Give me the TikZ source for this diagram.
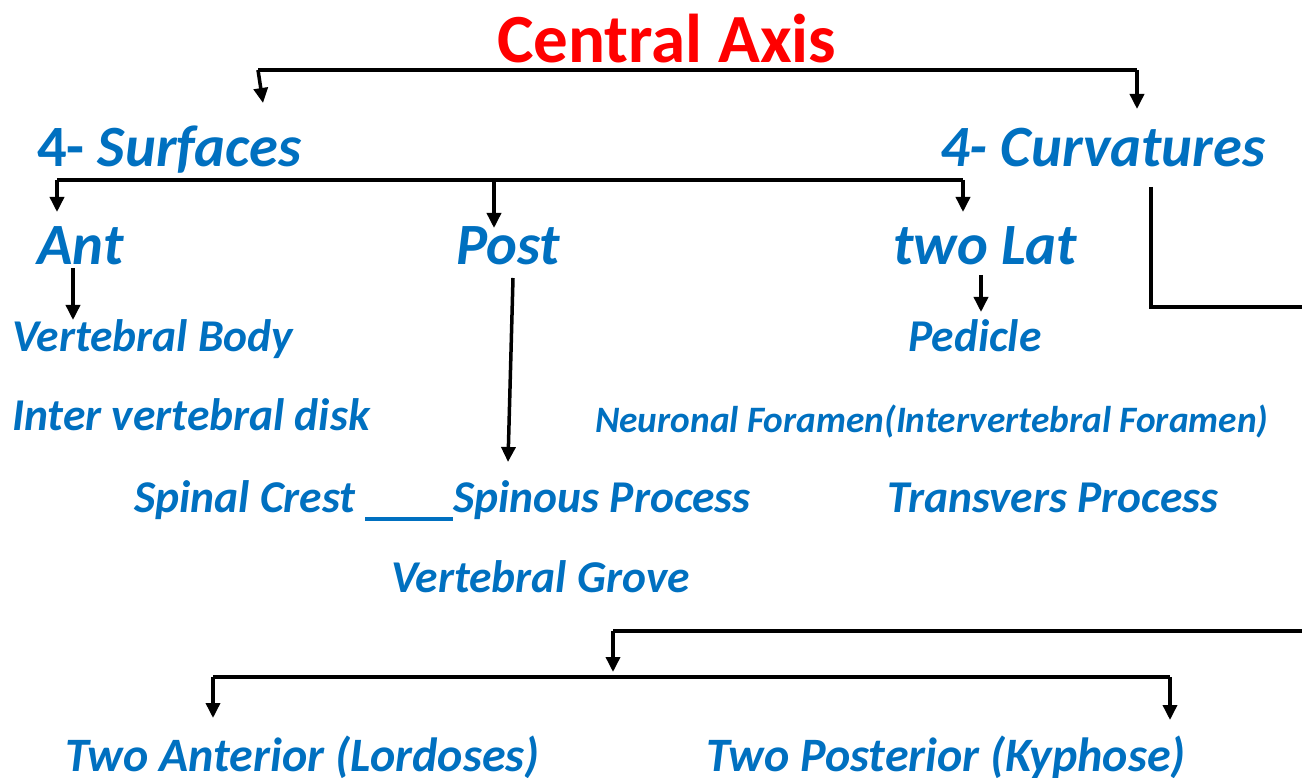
\documentclass[tikz,border=0pt]{standalone}
\usepackage{fontspec}
\setmainfont{Carlito}
\usetikzlibrary{arrows.meta}
\definecolor{tblue}{HTML}{0070C0}
\definecolor{tred}{HTML}{FF0000}
\begin{document}
\begin{tikzpicture}[x=1pt,y=-1pt,
  lbl/.style={anchor=base west,inner sep=0pt,text=tblue,font=\bfseries\itshape},
  big/.style={lbl,font=\fontsize{58.5}{60}\selectfont\bfseries\itshape},
  mid/.style={lbl,font=\fontsize{45.5}{47}\selectfont\bfseries\itshape},
  low/.style={lbl,font=\fontsize{48}{50}\selectfont\bfseries\itshape},
  small/.style={lbl,font=\fontsize{37.3}{39}\selectfont\bfseries\itshape},
  conn/.style={line width=3.5pt,black},
  arr/.style={conn,-{Triangle[length=15pt,width=14pt]}}]
\useasboundingbox (0,0) rectangle (1302,778);
% texts
\node[anchor=base west,inner sep=0pt,text=tred,font=\fontsize{69}{71}\selectfont\bfseries] (title) at (497,63) {Central Axis};
\node[big] (surf) at (37,167) {\upshape 4-\itshape{} Surfaces};
\node[big] (curv) at (940,167) {4- Curvatures};
\node[big] (ant) at (37,265) {Ant};
\node[big] (post) at (456,265) {Post};
\node[big] (lat) at (893,265) {two Lat};
\node[mid] (vb) at (12,352) {Vertebral Body};
\node[mid] (ivd) at (12,430) {Inter vertebral disk};
\node[mid] (ped) at (908,352) {Pedicle};
\node[small] (nf) at (595,432) {Neuronal Foramen(Intervertebral Foramen)};
\node[mid] (sp) at (134,512) {Spinal Crest \rule[-9pt]{88pt}{4pt}Spinous Process};
\node[mid] (tp) at (887,512) {Transvers Process};
\node[mid] (vg) at (391,592) {Vertebral Grove};
\node[low] (ta) at (65,771) {Two Anterior (Lordoses)};
\node[low] (tpo) at (706,771) {Two Posterior (Kyphose)};
% coordinates
\coordinate (t1) at (258,70); \coordinate (t2) at (1137,70);
\coordinate (t1e) at (263,103); \coordinate (t2e) at (1137,109);
\coordinate (s1) at (57,180); \coordinate (s3) at (963,180);
\coordinate (s2) at (494,180);
\coordinate (s1e) at (57,212); \coordinate (s2e) at (494,228); \coordinate (s3e) at (963,212);
\coordinate (a1) at (73,268); \coordinate (a1e) at (73,320);
\coordinate (p1) at (513,278); \coordinate (p1e) at (508,462);
\coordinate (l1) at (981,275); \coordinate (l1e) at (981,312);
\coordinate (c1) at (1151,187); \coordinate (c2) at (1151,307); \coordinate (c3) at (1302,307);
\coordinate (b1) at (1302,631); \coordinate (b2) at (613,631); \coordinate (b2e) at (613,672);
\coordinate (d1) at (213,677); \coordinate (d2) at (1170,677);
\coordinate (d1e) at (213,718); \coordinate (d2e) at (1170,720);
% connectors
\draw[conn] (t1) -- (t2);
\draw[arr] (t1) -- (t1e);
\draw[arr] (t2) -- (t2e);
\draw[conn] (s1) -- (s3);
\draw[arr] (s1) -- (s1e);
\draw[arr] (s2) -- (s2e);
\draw[arr] (s3) -- (s3e);
\draw[arr] (a1) -- (a1e);
\draw[arr] (p1) -- (p1e);
\draw[arr] (l1) -- (l1e);
\draw[conn] (c1) -- (c2) -- (c3);
\draw[conn] (b1) -- (b2);
\draw[arr] (b2) -- (b2e);
\draw[conn] (d1) -- (d2);
\draw[arr] (d1) -- (d1e);
\draw[arr] (d2) -- (d2e);
\end{tikzpicture}
\end{document}
